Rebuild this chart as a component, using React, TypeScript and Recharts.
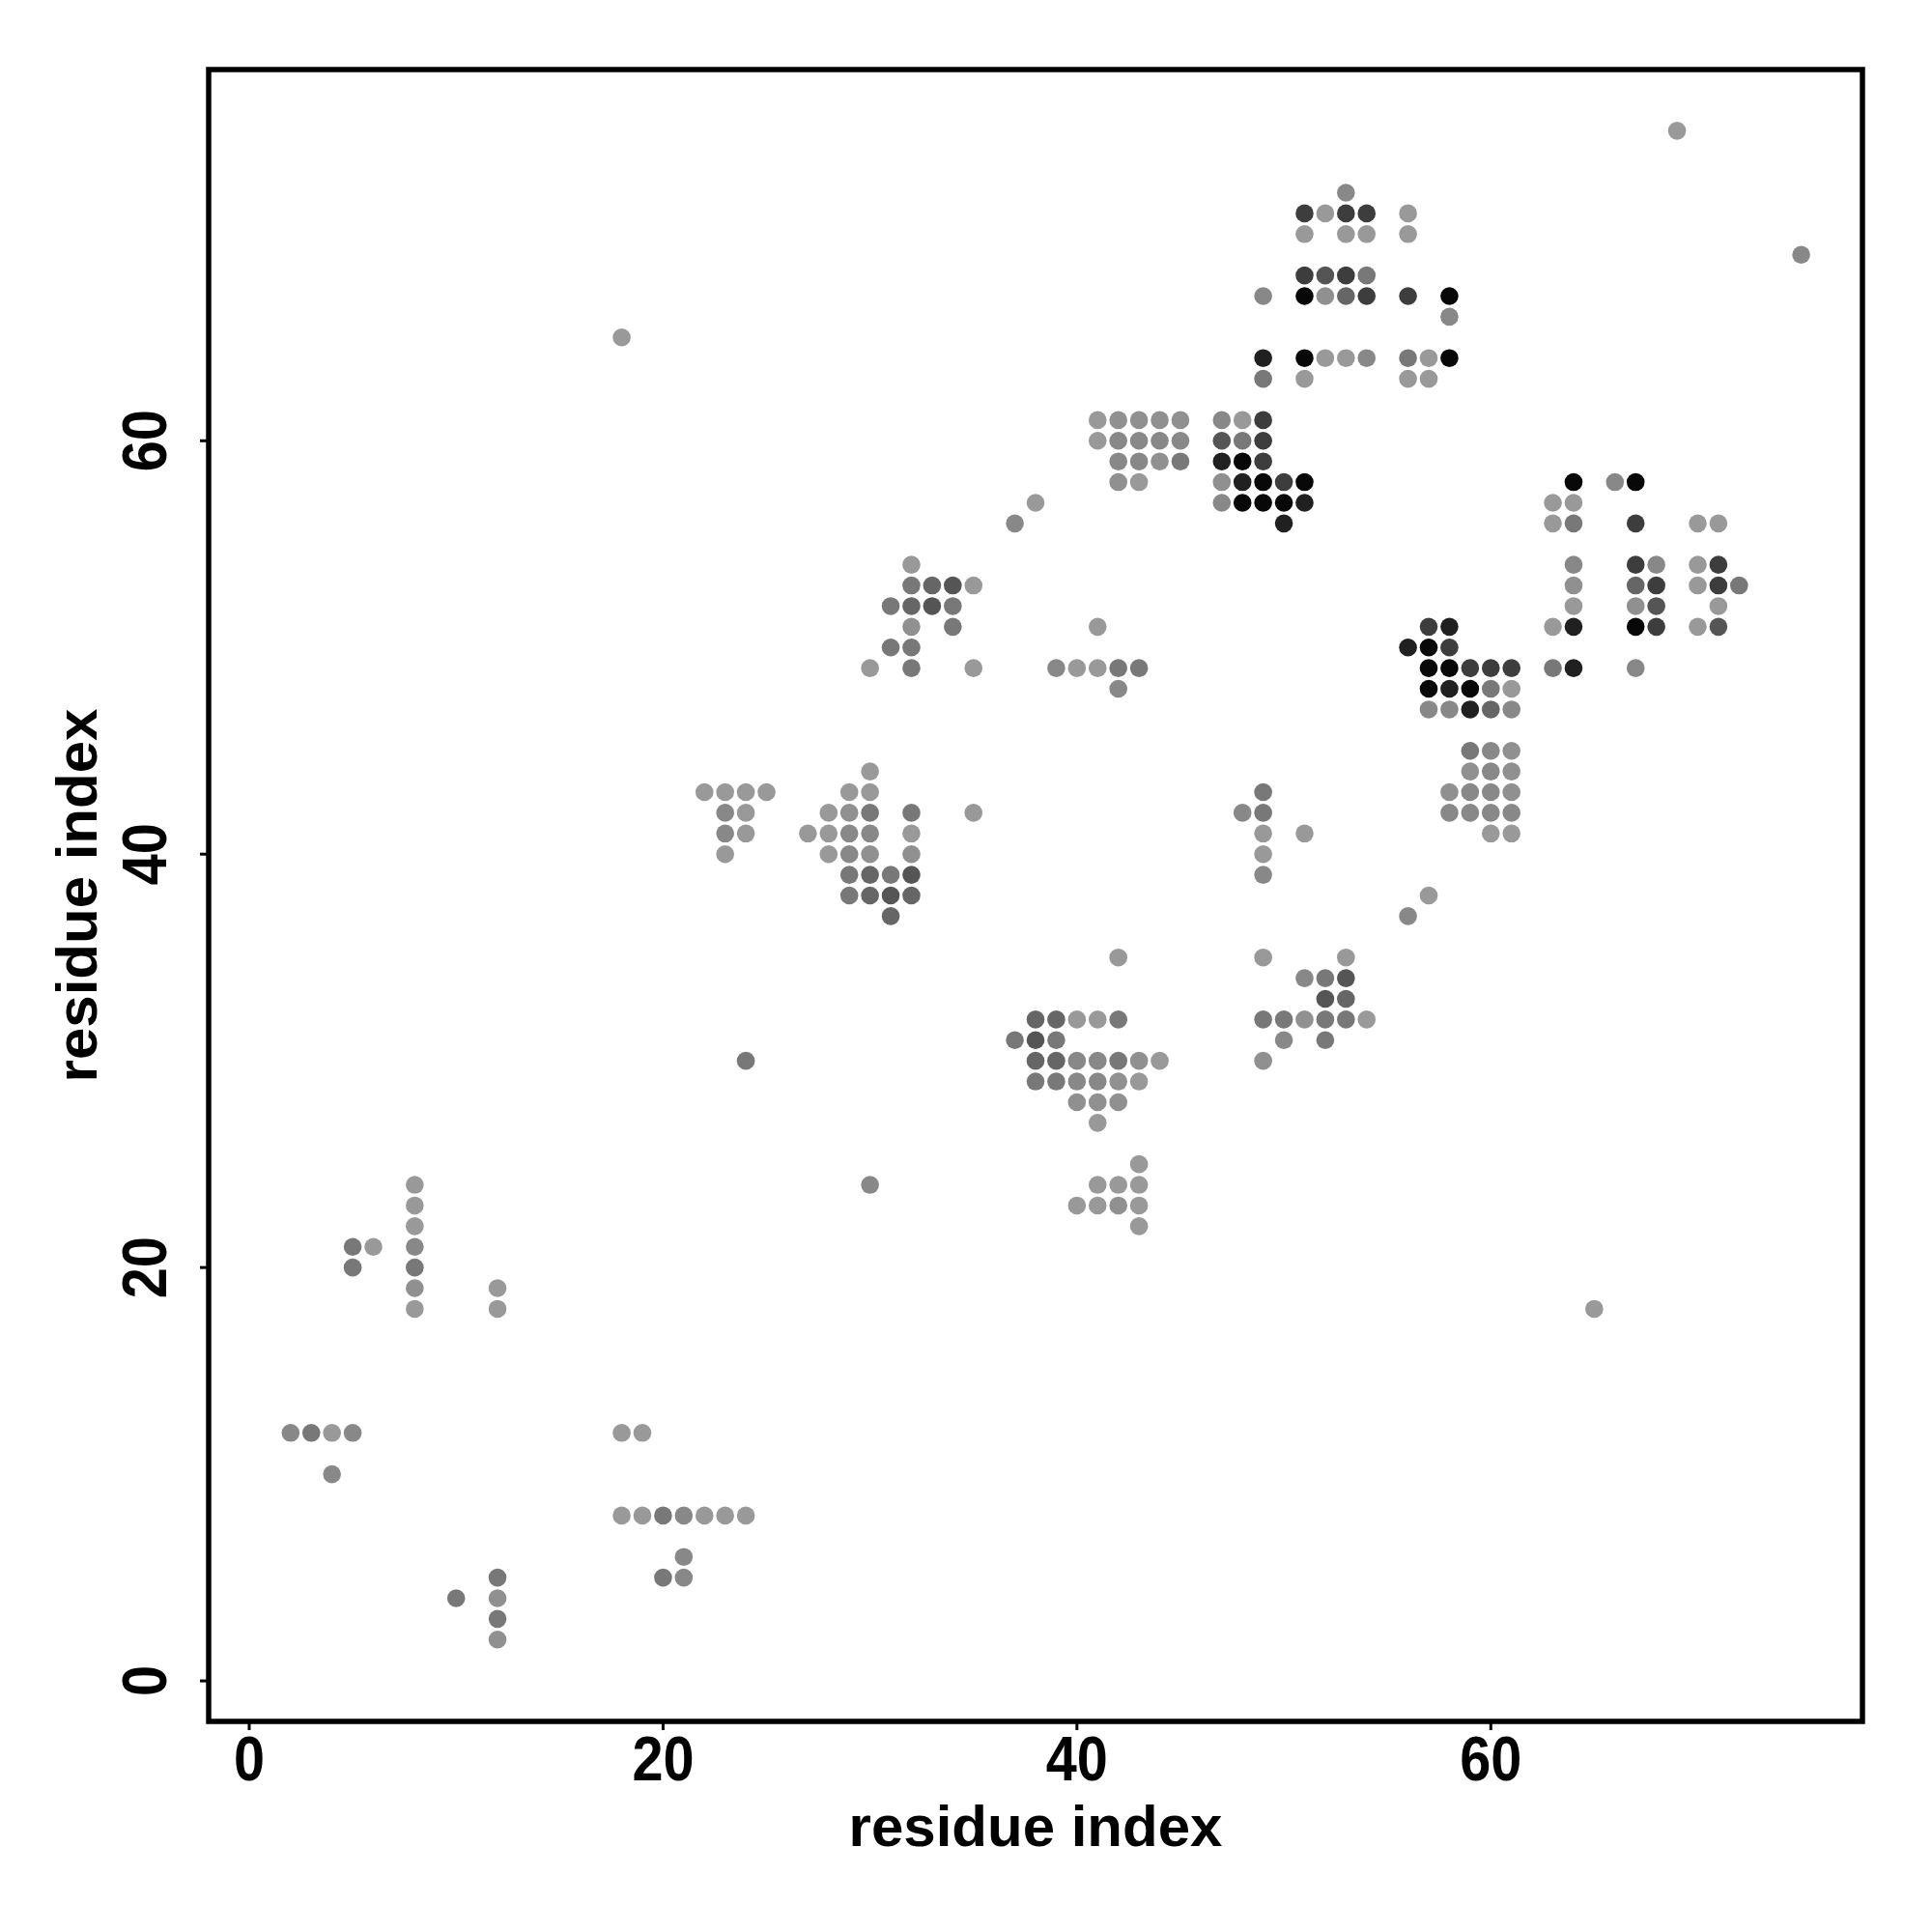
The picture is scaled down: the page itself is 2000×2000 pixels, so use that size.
import React from "react";
import {
  ScatterChart, Scatter, XAxis, YAxis, ReferenceArea, Label,
} from "recharts";

// contact map points, grouped by grey level (light -> black)
type Pt = [number, number];

const lightPts: Pt[] = [
  [4, 12], [8, 24], [8, 23], [8, 22], [8, 18], [6, 21], [12, 19], [12, 18], [18, 12], [19, 12],
  [18, 8], [19, 8], [22, 8], [23, 8], [24, 8],
  [42, 35], [40, 32], [41, 32], [44, 30], [43, 29], [41, 27], [43, 25], [41, 24], [42, 24], [43, 24],
  [40, 23], [41, 23], [43, 23], [43, 22],
  [32, 54], [35, 53], [30, 49], [35, 49], [30, 44], [22, 43], [23, 43], [24, 43], [25, 43], [29, 43],
  [30, 43], [24, 42], [28, 42], [35, 42], [24, 41], [27, 41], [28, 41], [32, 41], [23, 40], [28, 40],
  [41, 61], [48, 61], [41, 60], [43, 58], [38, 57], [41, 51], [40, 49], [41, 49],
  [52, 71], [56, 71], [51, 70], [53, 70], [54, 70], [56, 70], [52, 64], [53, 64], [57, 64], [51, 63],
  [56, 63], [57, 63],
  [49, 41], [51, 41], [49, 40], [49, 35], [53, 35], [54, 32],
  [61, 48], [60, 41], [61, 41], [57, 38],
  [63, 57], [64, 57], [63, 56], [70, 56], [71, 56], [70, 54], [70, 53], [64, 52], [71, 52], [63, 51], [70, 51],
  [69, 75], [18, 65], [65, 18],
];

const lightMidPts: Pt[] = [
  [8, 19], [12, 4], [12, 2], [43, 30], [42, 29], [40, 28], [41, 28], [42, 28], [42, 23], [32, 51],
  [29, 42], [30, 40], [32, 40], [42, 61], [43, 61], [44, 61], [45, 61], [44, 59], [42, 58], [47, 58],
  [52, 67], [51, 32], [49, 30], [61, 45], [59, 44], [61, 44], [58, 43], [61, 43], [64, 53], [67, 52],
];

const midPts: Pt[] = [
  [2, 12], [5, 12], [4, 10], [8, 21], [21, 8], [21, 6], [21, 5], [40, 30], [41, 30], [40, 29], [41, 29],
  [23, 42], [23, 41], [29, 41], [30, 41], [29, 40], [47, 61], [42, 60], [43, 60], [44, 60], [45, 60],
  [42, 59], [43, 59], [47, 57], [37, 56], [39, 49], [42, 48], [53, 72], [49, 67], [58, 66], [54, 64],
  [48, 42], [49, 39], [51, 34], [50, 31], [57, 47], [58, 47], [61, 47], [60, 45], [60, 44], [59, 43],
  [60, 43], [58, 42], [59, 42], [60, 42], [61, 42], [56, 37], [66, 58], [64, 54], [68, 54], [67, 49],
  [75, 69], [30, 24],
];

const midDarkPts: Pt[] = [
  [3, 12], [8, 20], [5, 21], [5, 20], [20, 8], [20, 5], [10, 4], [12, 5], [12, 3], [42, 32], [37, 31],
  [39, 31], [42, 30], [38, 29], [39, 29], [32, 53], [31, 52], [34, 52], [34, 51], [31, 50], [32, 50],
  [32, 49], [30, 42], [32, 42], [29, 39], [31, 39], [29, 38], [48, 60], [45, 59], [42, 49], [43, 49],
  [54, 68], [56, 64], [49, 63], [49, 43], [49, 42], [52, 34], [49, 32], [50, 32], [52, 32], [53, 32],
  [52, 31], [60, 48], [59, 45], [64, 56], [72, 53], [63, 49], [24, 30],
];

const darkPts: Pt[] = [
  [31, 37], [38, 32], [39, 32], [38, 30], [39, 30], [33, 53], [32, 52], [30, 39], [30, 38], [32, 38],
  [53, 67], [53, 33], [60, 47], [67, 53],
];

const darker2Pts: Pt[] = [
  [38, 31], [34, 53], [33, 52], [32, 39], [31, 38], [47, 60], [52, 68], [53, 34], [52, 33], [68, 52], [71, 51],
];

const darker3Pts: Pt[] = [
  [49, 61], [49, 60], [49, 59], [50, 58], [51, 71], [53, 71], [54, 71], [51, 68], [53, 68], [54, 67],
  [56, 67], [57, 51], [58, 50], [59, 49], [60, 49], [61, 49], [67, 56], [67, 54], [71, 54], [68, 53],
  [71, 53], [68, 51],
];

const nearBlackPts: Pt[] = [
  [47, 59], [48, 58], [51, 57], [50, 56], [49, 64], [58, 51], [56, 50], [58, 48], [59, 47], [64, 51], [64, 49],
];

const blackPts: Pt[] = [
  [48, 59], [49, 58], [51, 58], [48, 57], [49, 57], [50, 57], [51, 67], [58, 67], [51, 64], [58, 64],
  [57, 50], [57, 49], [58, 49], [57, 48], [59, 48], [64, 58], [67, 58], [67, 51],
];

const TICKS = [0, 20, 40, 60];
const DOMAIN: [number, number] = [-1.96, 77.96];

const GROUPS: { name: string; pts: Pt[]; color: string }[] = [
  { name: "light", pts: lightPts, color: "#999999" },
  { name: "lightMid", pts: lightMidPts, color: "#909090" },
  { name: "mid", pts: midPts, color: "#888888" },
  { name: "midDark", pts: midDarkPts, color: "#787878" },
  { name: "dark", pts: darkPts, color: "#666666" },
  { name: "darker2", pts: darker2Pts, color: "#555555" },
  { name: "darker3", pts: darker3Pts, color: "#3d3d3d" },
  { name: "nearBlack", pts: nearBlackPts, color: "#202020" },
  { name: "black", pts: blackPts, color: "#080808" },
];

const FONT = "'Liberation Sans', Arial, Helvetica, sans-serif";

// tick digits in the original are a bit taller/narrower than Liberation
const XTick = (p: any) => (
  <text
    transform={`translate(${p.x}, ${p.y + 52}) scale(0.9, 1)`}
    textAnchor="middle" fontFamily={FONT} fontWeight="bold" fontSize={64} fill="#000"
  >
    {p.payload.value}
  </text>
);

const YTick = (p: any) => (
  <text
    transform={`translate(${p.x - 35}, ${p.y}) rotate(-90) scale(0.9, 1)`}
    textAnchor="middle" fontFamily={FONT} fontWeight="bold" fontSize={64} fill="#000"
  >
    {p.payload.value}
  </text>
);

export default function App() {
  return (
    <div style={{ position: "absolute", left: 0, top: 0, width: 2000, height: 2000, background: "#fff" }}>
      <ScatterChart width={2000} height={2000} margin={{ top: 72, right: 72, left: 0, bottom: 0 }}>
        <XAxis
          type="number" dataKey="x" domain={DOMAIN} ticks={TICKS} allowDataOverflow
          height={218} axisLine={false} tickSize={9} tickMargin={0}
          tickLine={{ stroke: "#000", strokeWidth: 3 }} tick={<XTick />}
        >
          <Label
            content={(lp: any) => {
              const vb = lp.viewBox || { x: 216, y: 1782, width: 1712 };
              return (
                <text x={vb.x + vb.width / 2} y={vb.y + 129} textAnchor="middle"
                  fontFamily={FONT} fontWeight="bold" fontSize={60} fill="#000">
                  residue index
                </text>
              );
            }}
          />
        </XAxis>
        <YAxis
          type="number" dataKey="y" domain={DOMAIN} ticks={TICKS} allowDataOverflow
          width={216} axisLine={false} tickSize={9} tickMargin={0}
          tickLine={{ stroke: "#000", strokeWidth: 3 }} tick={<YTick />}
        >
          <Label
            content={(lp: any) => {
              const vb = lp.viewBox || { x: 0, y: 72, height: 1710 };
              return (
                <text transform={`translate(100, ${vb.y + vb.height / 2}) rotate(-90)`} textAnchor="middle"
                  fontFamily={FONT} fontWeight="bold" fontSize={60} fill="#000">
                  residue index
                </text>
              );
            }}
          />
        </YAxis>
        {GROUPS.map((g) => (
          <Scatter
            key={g.name}
            name={g.name}
            data={g.pts.map(([x, y]) => ({ x, y }))}
            fill={g.color}
            isAnimationActive={false}
            shape={(p: any) => <circle cx={p.cx} cy={p.cy} r={9.3} fill={g.color} />}
          />
        ))}
        <ReferenceArea
          x1={DOMAIN[0]} x2={DOMAIN[1]} y1={DOMAIN[0]} y2={DOMAIN[1]}
          fill="none" fillOpacity={0} stroke="#000" strokeWidth={5.5} ifOverflow="visible"
        />
      </ScatterChart>
    </div>
  );
}
